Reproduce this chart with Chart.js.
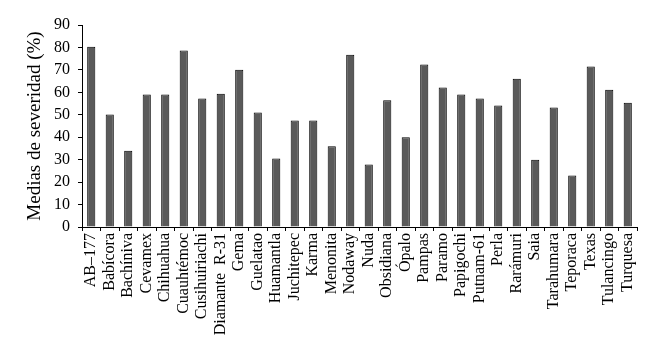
<!DOCTYPE html>
<html>
<head>
<meta charset="utf-8">
<script src="https://cdn.jsdelivr.net/npm/chart.js@4"></script>
<style>
  html, body { margin: 0; padding: 0; background: #fff; }
  #wrap { width: 659px; height: 344px; }
</style>
</head>
<body>
<div id="wrap"><canvas id="grafico" width="659" height="344"></canvas></div>
<script>
const variedades = ['AB\u2013177', 'Babícora', 'Bachíniva', 'Cevamex', 'Chihuahua', 'Cuauhtémoc',
  'Cusihuiriachi', 'Diamante  R-31', 'Gema', 'Guelatao', 'Huamantla', 'Juchitepec', 'Karma',
  'Menonita', 'Nodaway', 'Nuda', 'Obsidiana', 'Ópalo', 'Pampas', 'Paramo', 'Papigochi',
  'Putnam-61', 'Perla', 'Rarámuri', 'Saia', 'Tarahumara', 'Teporaca', 'Texas', 'Tulancingo', 'Turquesa'];
const severidad = [80.3, 50.1, 34.0, 59.0, 59.0, 78.6, 57.2, 59.4, 70.1, 51.0, 30.5, 47.4, 47.4,
  36.0, 76.8, 27.8, 56.5, 40.0, 72.4, 62.1, 59.0, 57.2, 54.1, 66.1, 30.0, 53.2, 22.9, 71.5, 61.2, 55.4];
const ticksY = [0, 10, 20, 30, 40, 50, 60, 70, 80, 90];

const fuente = 'Liberation Serif, Times New Roman, serif';
Chart.defaults.font.family = fuente;
Chart.defaults.color = '#000';

const ctx = document.getElementById('grafico');

new Chart(ctx, {
  type: 'bar',
  data: {
    labels: variedades,
    datasets: [{
      data: severidad,
      backgroundColor: '#5a5a5a',
      borderColor: '#000',
      borderWidth: 1,
      categoryPercentage: 1,
      barPercentage: 0.44
    }]
  },
  options: {
    responsive: false,
    animation: false,
    layout: { padding: { top: 25, right: 22, left: 0, bottom: 0 } },
    plugins: { legend: { display: false }, tooltip: { enabled: false } },
    scales: {
      x: {
        grid: { drawOnChartArea: false, drawTicks: true, tickLength: 4, color: '#000', offset: true },
        border: { display: true, color: '#000', width: 1 },
        ticks: { autoSkip: false, maxRotation: 90, minRotation: 90, padding: 2, font: { size: 16 } },
        afterFit: (escala) => { escala.height = 117; }
      },
      y: {
        min: 0,
        max: 90,
        afterBuildTicks: (escala) => { escala.ticks = ticksY.map(v => ({ value: v })); },
        grid: { drawOnChartArea: false, drawTicks: true, tickLength: 4, color: '#000' },
        border: { display: true, color: '#000', width: 1 },
        ticks: { padding: 8, font: { size: 16 } },
        title: { display: true, text: 'Medias de severidad (%)', font: { size: 19 }, padding: { top: 24, bottom: 0 } },
        afterFit: (escala) => { escala.width = 82; }
      }
    }
  }
});
</script>
</body>
</html>
